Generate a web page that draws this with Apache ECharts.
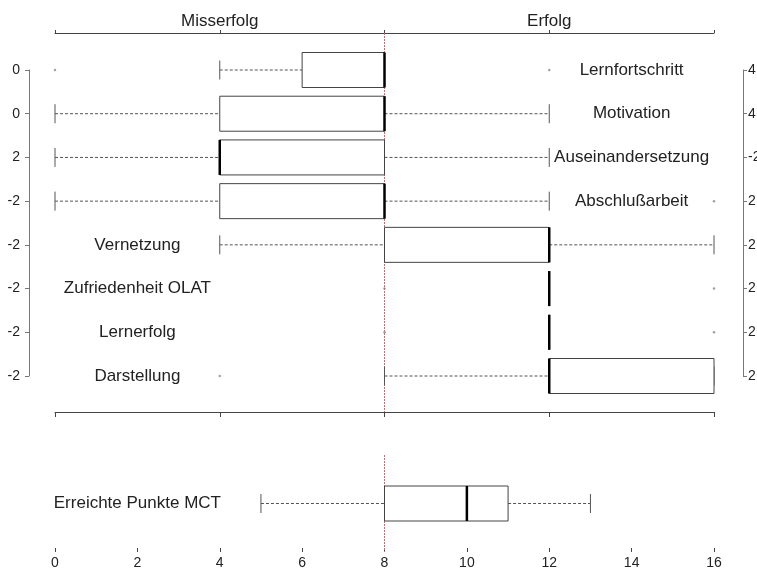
<!DOCTYPE html>
<html><head><meta charset="utf-8">
<script src="https://cdn.jsdelivr.net/npm/echarts@6/dist/echarts.min.js"></script>
<style>html,body{margin:0;padding:0;background:#fff}#c{width:757px;height:570px}</style>
</head><body><div id="c"></div>
<script>
// ---- data ----
const categories = ['Lernfortschritt','Motivation','Auseinandersetzung','Abschlußarbeit','Vernetzung','Zufriedenheit OLAT','Lernerfolg','Darstellung'];
const leftTickLabels = ['0','0','2','-2','-2','-2','-2','-2'];
const rightTickLabels = ['4','4','-2','2','2','2','2','2'];
const whiskerLow  = [4, 0, 0, 0, 4, 12, 12, 8];
const q1          = [6, 4, 4, 4, 8, 12, 12, 12];
const median      = [8, 8, 4, 8, 12, 12, 12, 12];
const q3          = [8, 8, 8, 8, 12, 12, 12, 16];
const whiskerHigh = [8, 12, 12, 12, 16, 12, 12, 16];
const outlierValues = [0, 12, 16, 8, 16, 8, 16, 4];
const outlierRows   = [0, 0, 3, 5, 5, 6, 6, 7];
const mctCategories = ['Erreichte Punkte MCT'];
const mctStats = [5, 8, 10, 11, 13];
const topAxisLabels = {4: 'Misserfolg', 12: 'Erfolg'};
const threshold = 8;

// ---- styles ----
const TXT_FONT = '"Liberation Sans", Arial, sans-serif';
const NUM_FONT = '"Liberation Sans Narrow", "Arial Narrow", "Liberation Sans", sans-serif';
const BOX_HALF = 17.5, CAP_HALF = 9.5;
const RED = '#ee5a64';

function makeRender(names) {
  return function (params, api) {
    const row = api.value(0);
    const lo = api.value(1), a = api.value(2), m = api.value(3), b = api.value(4), hi = api.value(5);
    const yc = api.coord([lo, row])[1];
    const X = v => api.coord([v, row])[0];
    const ch = [];
    const dash = {stroke: '#555', lineWidth: 1, lineDash: [3, 2]};
    if (a > lo) ch.push({type: 'line', shape: {x1: X(lo), y1: yc, x2: X(a), y2: yc}, style: dash});
    if (hi > b) ch.push({type: 'line', shape: {x1: X(b), y1: yc, x2: X(hi), y2: yc}, style: dash});
    ch.push({type: 'line', shape: {x1: X(lo), y1: yc - CAP_HALF, x2: X(lo), y2: yc + CAP_HALF}, style: {stroke: '#555', lineWidth: 1}});
    ch.push({type: 'line', shape: {x1: X(hi), y1: yc - CAP_HALF, x2: X(hi), y2: yc + CAP_HALF}, style: {stroke: '#555', lineWidth: 1}});
    ch.push({type: 'rect', shape: {x: X(a), y: yc - BOX_HALF, width: X(b) - X(a), height: 2 * BOX_HALF}, style: {fill: '#fff', stroke: '#444', lineWidth: 1}});
    ch.push({type: 'line', shape: {x1: X(m), y1: yc - BOX_HALF, x2: X(m), y2: yc + BOX_HALF}, style: {stroke: '#000', lineWidth: 2.5}});
    const lx = b <= threshold ? 14 : 2;
    ch.push({type: 'text', style: {text: names[params.dataIndex], x: X(lx), y: yc, align: 'center', verticalAlign: 'middle', font: '17px ' + TXT_FONT, fill: '#222'}});
    return {type: 'group', children: ch};
  };
}

function renderRefLine(params, api) {
  const cs = params.coordSys;
  const x = Math.floor(api.coord([api.value(0), 0])[0]) + 0.5;
  return {type: 'line', shape: {x1: x, y1: cs.y, x2: x, y2: cs.y + cs.height},
    style: {stroke: RED, fill: null, lineWidth: 1, lineDash: [2, 1]}};
}

const boxData = categories.map((c, i) => [i, whiskerLow[i], q1[i], median[i], q3[i], whiskerHigh[i]]);
const outlierData = outlierValues.map((v, i) => [v, outlierRows[i]]);
const mctData = [[0].concat(mctStats)];

const axisCol = '#444';
const gridBase = {left: 55, right: 43, containLabel: false, outerBoundsMode: 'none'};
const chart = echarts.init(document.getElementById('c'));
chart.setOption({
  animation: false,
  backgroundColor: '#fff',
  grid: [
    Object.assign({top: 70, height: 306}, gridBase),
    Object.assign({top: 33, height: 379}, gridBase),
    Object.assign({top: 455, bottom: 18}, gridBase)
  ],
  xAxis: [
    {gridIndex: 0, type: 'value', min: 0, max: 16, show: false},
    {gridIndex: 1, type: 'value', min: 0, max: 16, interval: 4, position: 'top',
      axisLine: {onZero: false, lineStyle: {color: axisCol}}, axisTick: {show: true, length: 3, lineStyle: {color: axisCol}},
      splitLine: {show: false},
      axisLabel: {formatter: v => topAxisLabels[v] || '', fontSize: 17, fontFamily: TXT_FONT, color: '#222', margin: 3}},
    {gridIndex: 1, type: 'value', min: 0, max: 16, interval: 4, position: 'bottom',
      axisLine: {onZero: false, lineStyle: {color: axisCol}}, axisTick: {show: true, length: 5, lineStyle: {color: axisCol}},
      splitLine: {show: false}, axisLabel: {show: false}},
    {gridIndex: 2, type: 'value', min: 0, max: 16, interval: 2, position: 'bottom',
      axisLine: {onZero: false, lineStyle: {color: axisCol}}, axisTick: {show: true, inside: true, length: 4, lineStyle: {color: axisCol}},
      splitLine: {show: false},
      axisLabel: {fontSize: 14, fontFamily: NUM_FONT, color: '#222', margin: 4}}
  ],
  yAxis: [
    {gridIndex: 0, type: 'category', data: categories, inverse: true, boundaryGap: false, position: 'left', offset: 26,
      axisLine: {onZero: false, lineStyle: {color: '#777'}}, axisTick: {length: 4, lineStyle: {color: '#777'}},
      splitLine: {show: false},
      axisLabel: {formatter: (v, i) => leftTickLabels[i], fontSize: 14, fontFamily: NUM_FONT, color: '#222', margin: 9}},
    {gridIndex: 0, type: 'category', data: categories, inverse: true, boundaryGap: false, position: 'right', offset: 29,
      axisLine: {onZero: false, lineStyle: {color: '#777'}}, axisTick: {length: 4, lineStyle: {color: '#777'}},
      splitLine: {show: false},
      axisLabel: {formatter: (v, i) => rightTickLabels[i], fontSize: 14, fontFamily: NUM_FONT, color: '#222', margin: 5}},
    {gridIndex: 1, type: 'value', min: 0, max: 1, show: false},
    {gridIndex: 2, type: 'category', data: mctCategories, show: false}
  ],
  series: [
    {type: 'custom', xAxisIndex: 1, yAxisIndex: 2, renderItem: renderRefLine, data: [[threshold]],
      encode: {x: 0}, clip: false, z: 1, silent: true, itemStyle: {color: RED}},
    {type: 'custom', xAxisIndex: 3, yAxisIndex: 3, renderItem: renderRefLine, data: [[threshold]],
      encode: {x: 0}, clip: false, z: 1, silent: true, itemStyle: {color: RED}},
    {type: 'custom', xAxisIndex: 0, yAxisIndex: 0, renderItem: makeRender(categories), data: boxData,
      encode: {x: [1, 2, 3, 4, 5], y: 0}, clip: false, z: 2},
    {type: 'scatter', xAxisIndex: 0, yAxisIndex: 0, data: outlierData, symbolSize: 2.5,
      itemStyle: {color: '#888'}, z: 3},
    {type: 'custom', xAxisIndex: 3, yAxisIndex: 3, renderItem: makeRender(mctCategories), data: mctData,
      encode: {x: [1, 2, 3, 4, 5], y: 0}, clip: false, z: 2}
  ]
});
</script>
</body></html>
